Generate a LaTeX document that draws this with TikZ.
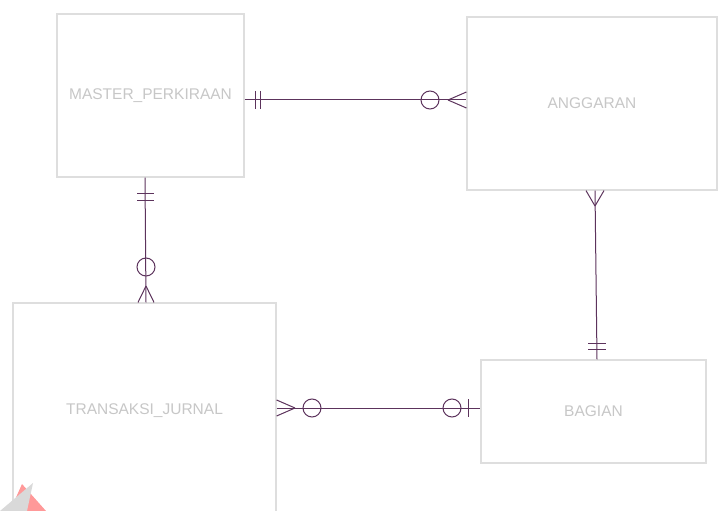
\documentclass[tikz,border=0pt]{standalone}
\usepackage{fontspec}
\setmainfont{Liberation Sans}
\begin{document}
\begin{tikzpicture}[x=1pt,y=-1pt,
  ent/.style={draw=black!13,line width=1.2pt,fill=white,inner sep=0pt,text=black!22,font=\fontsize{15.5}{17}\selectfont},
  rel/.style={draw=violet!40!black!80,line width=1pt},
  cir/.style={draw=violet!40!black!80,line width=1pt}]
\useasboundingbox (0,0) rectangle (718,511);
\clip (0,0) rectangle (718,511);
% entities
\node[ent,minimum width=187pt,minimum height=163pt] (mp) at (150.5,95.5) {MASTER\_PERKIRAAN};
\node[ent,minimum width=250pt,minimum height=173pt] (ag) at (592,103.5) {ANGGARAN};
\node[ent,minimum width=263pt,minimum height=215pt] (tj) at (144.5,410.5) {TRANSAKSI\_JURNAL};
\node[ent,minimum width=225pt,minimum height=103pt] (bg) at (593.5,411.5) {BAGIAN};
% watermark corner
\fill[red!40] (22,484) -- (46,511) -- (10,511) -- cycle;
\fill[black!15] (33,483) -- (27,511) -- (0,511) -- cycle;
% MASTER_PERKIRAAN -- ANGGARAN
\coordinate (a1) at (mp.east |- 0,100);
\coordinate (a2) at (ag.west |- 0,100);
\draw[rel] (a1) -- (a2);
\draw[rel] (255,91) -- (255,109) (260,91) -- (260,109);
\draw[cir] (430,100) circle (9);
\draw[rel] (448,100) -- ([yshift=-8]a2) (448,100) -- ([yshift=8]a2);
% MASTER_PERKIRAAN -- TRANSAKSI_JURNAL
\coordinate (b1) at (mp.south -| 145,0);
\coordinate (b2) at (tj.north -| 146,0);
\draw[rel] (b1) -- (b2);
\draw[rel] (137,193) -- (154,193) (137,200) -- (154,200);
\draw[cir] (146,267) circle (9);
\draw[rel] (146,286) -- ([xshift=-8]b2) (146,286) -- ([xshift=8]b2);
% ANGGARAN -- BAGIAN
\coordinate (c1) at (ag.south -| 595,0);
\coordinate (c2) at (bg.north -| 597,0);
\draw[rel] (c1) -- (c2);
\draw[rel] (595,206) -- ([xshift=-9]c1) (595,206) -- ([xshift=9]c1);
\draw[rel] (588,343) -- (606,343) (588,349) -- (606,349);
% TRANSAKSI_JURNAL -- BAGIAN
\coordinate (d1) at (tj.east |- 0,408);
\coordinate (d2) at (bg.west |- 0,408);
\draw[rel] (d1) -- (d2);
\draw[rel] (295,408) -- ([yshift=-8]d1) (295,408) -- ([yshift=8]d1);
\draw[cir] (312,408) circle (9);
\draw[cir] (452,408) circle (9);
\draw[rel] (468,399) -- (468,417);
\end{tikzpicture}
\end{document}
